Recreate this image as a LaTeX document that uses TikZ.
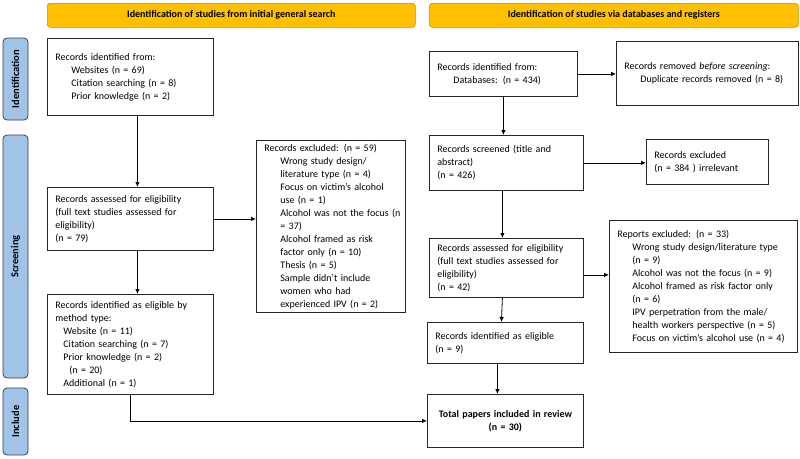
\documentclass[tikz,border=0pt]{standalone}
\usepackage{fontspec}
\setmainfont{Carlito}
\usetikzlibrary{arrows.meta}

\definecolor{headgold}{HTML}{FFC000}
\definecolor{headedge}{HTML}{C09010}
\definecolor{sideblue}{HTML}{A2C3E8}
\definecolor{sideedge}{HTML}{3A3F48}

\newcommand{\ind}{\hspace*{16pt}}

\begin{document}
\begin{tikzpicture}[x=1pt,y=-1pt,
  box/.style 2 args={draw=black!85,line width=0.8pt,anchor=north west,align=left,
    inner xsep=8pt,inner ysep=2pt,text width=#1pt,minimum height=#2pt,
    font=\fontsize{10}{13}\selectfont},
  headbox/.style={draw=headedge,fill=headgold,line width=0.6pt,rounded corners=3pt,
    anchor=north west,minimum height=24pt,font=\fontsize{10}{12}\selectfont\bfseries},
  sidebox/.style={draw=sideedge,fill=sideblue,line width=0.8pt,rounded corners=4pt,
    rotate=90,minimum height=25pt,font=\fontsize{10.5}{12}\selectfont\bfseries},
  arr/.style={-{Latex[length=5pt,width=4.5pt]},line width=0.8pt}]
  \useasboundingbox (0,0) rectangle (800,458);

  % headers
  \node[headbox,minimum width=368pt] (headL) at (47,3) {Identification of studies from initial general search};
  \node[headbox,minimum width=369pt] (headR) at (429,3) {Identification of studies via databases and registers};

  % phases
  \node[sidebox,minimum width=82pt] (phId) at (15.5,79) {Identification};
  \node[sidebox,minimum width=243pt] (phSc) at (15.5,256.5) {Screening};
  \node[sidebox,minimum width=67pt] (phIn) at (15.5,421.5) {Include};

  % general search column
  \node[box={150}{77}] (ident) at (47,38) {Records identified from:\\
    \ind Websites (n = 69)\\
    \ind Citation searching (n = 8)\\
    \ind Prior knowledge (n = 2)};
  \node[box={150}{63}] (assess) at (47,187) {Records assessed for eligibility\\
    (full text studies assessed for\\
    eligibility)\\
    (n = 79)};
  \node[box={133}{172}] (excl) at (256,140) {Records excluded: (n = 59)\\
    \ind Wrong study design/\\
    \ind literature type (n = 4)\\
    \ind Focus on victim’s alcohol\\
    \ind use (n = 1)\\
    \ind\mbox{Alcohol was not the focus (n}\\
    \ind = 37)\\
    \ind Alcohol framed as risk\\
    \ind factor only (n = 10)\\
    \ind Thesis (n = 5)\\
    \ind Sample didn’t include\\
    \ind women who had\\
    \ind experienced IPV (n = 2)};
  \node[box={150}{100}] (elig) at (47,294) {Records identified as eligible by\\
    method type:\\
    \hspace*{8pt}Website (n = 11)\\
    \hspace*{8pt}Citation searching (n = 7)\\
    \hspace*{8pt}Prior knowledge (n = 2)\\
    \hspace*{14pt}(n = 20)\\
    \hspace*{8pt}Additional (n = 1)};

  % database column
  \node[box={132}{45}] (dbId) at (429,51) {Records identified from:\\
    \ind Databases: (n = 434)};
  \node[box={166}{64}] (dbDup) at (616,41) {Records removed \emph{before screening}:\\
    \ind Duplicate records removed (n = 8)};
  \node[box={138}{55}] (dbScr) at (429,135) {Records screened (title and\\
    abstract)\\
    (n = 426)};
  \node[box={106}{45}] (dbOut) at (646,139) {Records excluded\\
    (n = 384 ) irrelevant};
  \node[box={138}{59}] (dbAss) at (429,238) {Records assessed for eligibility\\
    (full text studies assessed for\\
    eligibility)\\
    (n = 42)};
  \node[box={172}{132}] (dbRep) at (609,220) {Reports excluded: (n = 33)\\
    \hspace*{15pt}\mbox{Wrong study design/literature type}\\
    \hspace*{15pt}(n = 9)\\
    \hspace*{15pt}Alcohol was not the focus (n = 9)\\
    \hspace*{15pt}Alcohol framed as risk factor only\\
    \hspace*{15pt}(n = 6)\\
    \hspace*{15pt}IPV perpetration from the male/\\
    \hspace*{15pt}\mbox{health workers perspective (n = 5)}\\
    \hspace*{15pt}\mbox{Focus on victim’s alcohol use (n = 4)}};
  \node[box={140}{41}] (dbElig) at (427,322) {Records identified as eligible\\
    (n = 9)};
  \node[box={140}{53},align=center,font=\fontsize{10}{13}\selectfont\bfseries] (total) at (427,394) {Total papers included in review\\
    (n = 30)};

  % arrows
  \draw[arr] ([xshift=7pt]ident.south) -- ([xshift=7pt]assess.north);
  \draw[arr] (assess.east) -- (assess.east -| excl.west);
  \draw[arr] ([xshift=7pt]assess.south) -- ([xshift=7pt]elig.north);
  \draw[arr] (elig.south) |- (total.west);
  \draw[arr] (dbId.east) -- (dbId.east -| dbDup.west);
  \draw[arr] (dbId.south) -- (dbId.south |- dbScr.north);
  \draw[arr] (dbScr.east) -- (dbScr.east -| dbOut.west);
  \draw[arr] ([xshift=-4pt]dbScr.south) -- ([xshift=-4pt]dbAss.north);
  \draw[arr] ([yshift=-7pt]dbAss.east) -- ([yshift=-7pt]dbAss.east -| dbRep.west);
  \draw[arr] ([xshift=-4pt]dbAss.south) -- ([xshift=-4pt]dbElig.north);
  \draw[arr] ([xshift=-8pt]dbElig.south) -- ([xshift=-8pt]total.north);
\end{tikzpicture}
\end{document}
